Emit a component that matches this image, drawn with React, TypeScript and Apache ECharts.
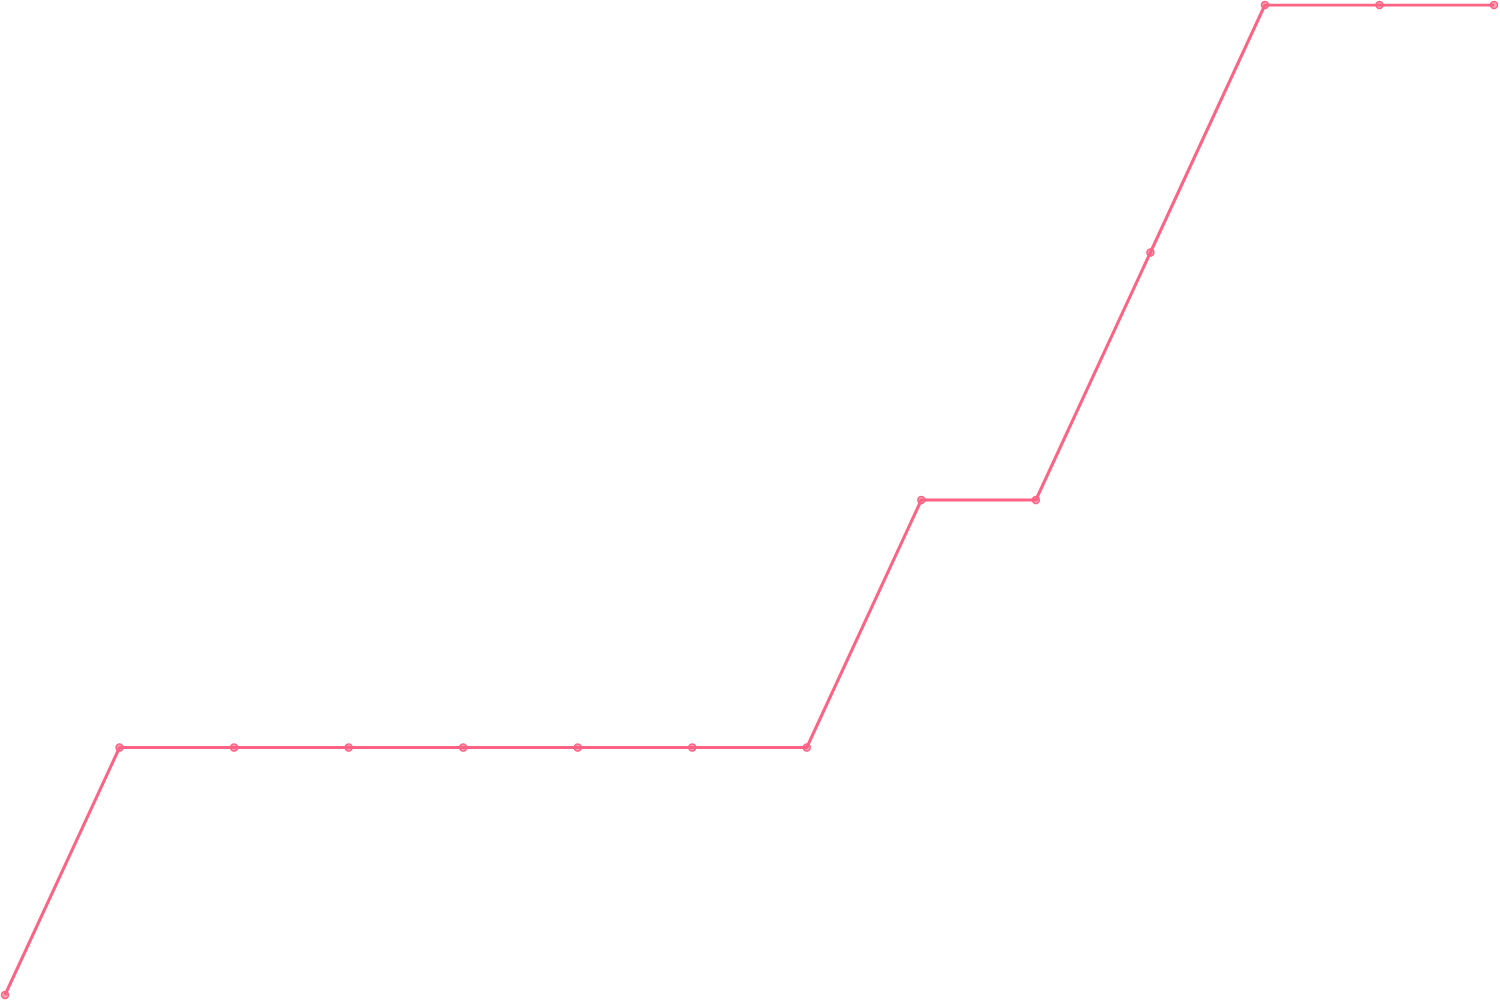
import { useEffect, useRef } from "react";
import * as echarts from "echarts";

const categories = ["1", "2", "3", "4", "5", "6", "7", "8", "9", "10", "11", "12", "13", "14"];
const values = [0, 1, 1, 1, 1, 1, 1, 1, 2, 2, 3, 4, 4, 4];

export default function App() {
  const chartRef = useRef<HTMLDivElement>(null);

  useEffect(() => {
    if (!chartRef.current) return;
    const chart = echarts.init(chartRef.current, null, { renderer: "svg" });

    chart.setOption({
      animation: false,
      grid: { left: 5, right: 6, top: 5, bottom: 5, containLabel: false },
      xAxis: {
        type: "category",
        data: categories,
        boundaryGap: false,
        show: false,
      },
      yAxis: {
        type: "value",
        min: 0,
        max: 4,
        show: false,
      },
      series: [
        {
          type: "line",
          data: values,
          symbol: "circle",
          symbolSize: 7,
          showAllSymbol: true,
          lineStyle: { color: "#ff6384", width: 3 },
          itemStyle: {
            color: "rgba(255, 99, 132, 0.6)",
            borderColor: "#ff6384",
            borderWidth: 1.5,
          },
        },
      ],
    });

    return () => {
      chart.dispose();
    };
  }, []);

  return (
    <div
      ref={chartRef}
      style={{ position: "absolute", left: 0, top: 0, width: 1500, height: 1000 }}
    />
  );
}
